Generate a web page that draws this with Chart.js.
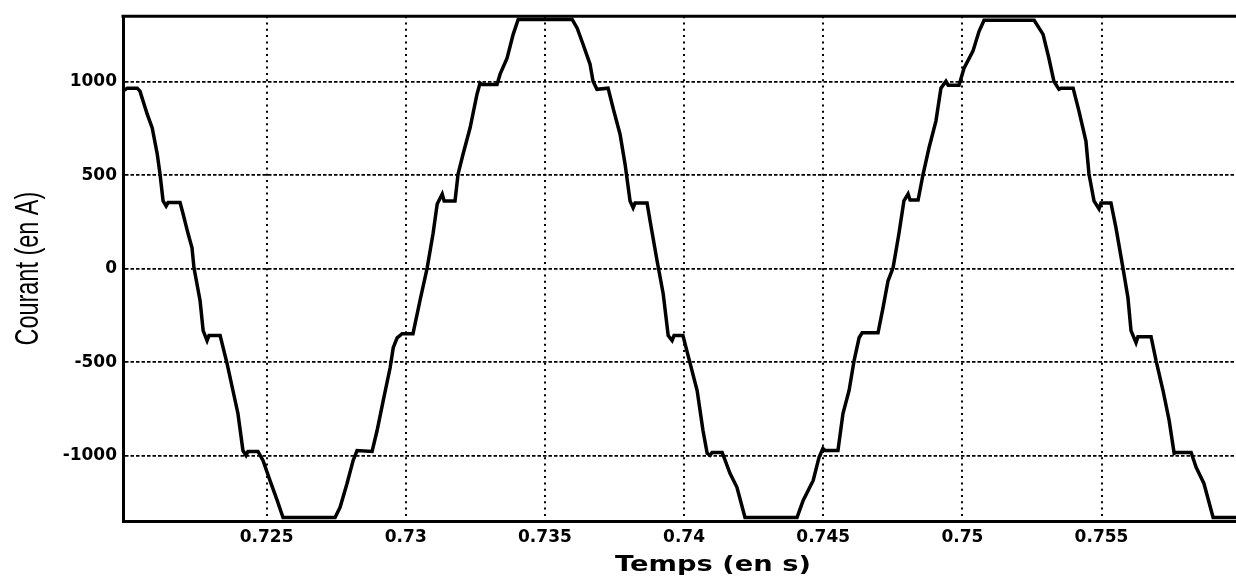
<!DOCTYPE html>
<html>
<head>
<meta charset="utf-8">
<script src="https://cdn.jsdelivr.net/npm/chart.js@4.4.1/dist/chart.umd.min.js"></script>
<style>
  html, body { margin: 0; padding: 0; background: #fff; overflow: hidden; }
  #wrap { position: absolute; left: 0; top: 0; }
</style>
</head>
<body>
<div id="wrap"><canvas id="courant" width="1303" height="578"></canvas></div>
<script>
// temps (s) et courant (A) de la phase, relevés point par point
var tempsS = [
  0.71984, 0.71999, 0.72035, 0.72045, 0.72071, 0.72089, 0.72107, 0.72117, 0.72128, 0.72139, 0.72146, 0.72189,
  0.72200, 0.72218, 0.72232, 0.72239, 0.72261, 0.72272, 0.72286, 0.72293, 0.72333,
  0.72358, 0.72379, 0.72397, 0.72415, 0.72426, 0.72433, 0.72469,
  0.72487, 0.72512, 0.72538, 0.72559, 0.72746,
  0.72764, 0.72789, 0.72811, 0.72825, 0.72879,
  0.72897, 0.72919, 0.72944, 0.72955, 0.72969, 0.72987, 0.73026,
  0.73051, 0.73077, 0.73098, 0.73113, 0.73131, 0.73138, 0.73177,
  0.73188, 0.73206, 0.73231, 0.73256, 0.73267, 0.73274, 0.73328,
  0.73339, 0.73364, 0.73386, 0.73404, 0.73598,
  0.73616, 0.73637, 0.73662, 0.73673, 0.73687, 0.73727,
  0.73745, 0.73770, 0.73788, 0.73806, 0.73817, 0.73824, 0.73867,
  0.73878, 0.73903, 0.73925, 0.73943, 0.73957, 0.73964, 0.73996,
  0.74022, 0.74047, 0.74068, 0.74083, 0.74093, 0.74101, 0.74137,
  0.74165, 0.74190, 0.74219, 0.74406,
  0.74428, 0.74464, 0.74485, 0.74499, 0.74507, 0.74553,
  0.74571, 0.74593, 0.74611, 0.74629, 0.74640, 0.74697,
  0.74715, 0.74733, 0.74751, 0.74772, 0.74790, 0.74805, 0.74812, 0.74841,
  0.74859, 0.74880, 0.74905, 0.74923, 0.74941, 0.74949, 0.74988,
  0.75006, 0.75038, 0.75060, 0.75078, 0.75258,
  0.75290, 0.75311, 0.75329, 0.75347, 0.75355, 0.75398,
  0.75419, 0.75444, 0.75455, 0.75473, 0.75491, 0.75498, 0.75534,
  0.75552, 0.75577, 0.75595, 0.75606, 0.75624, 0.75631, 0.75678,
  0.75696, 0.75721, 0.75743, 0.75761, 0.75768, 0.75822,
  0.75840, 0.75868, 0.75901, 0.76020
];
var courantA = [
  949, 965, 965, 949, 826, 752, 613, 506, 362, 335, 353, 353,
  292, 186, 111, 4, -172, -332, -385, -358, -358,
  -508, -652, -775, -973, -999, -978, -978,
  -1026, -1133, -1240, -1331, -1331,
  -1277, -1149, -1026, -973, -978,
  -866, -706, -529, -423, -370, -348, -348,
  -172, 4, 186, 346, 399, 362, 362,
  506, 613, 752, 933, 992, 985, 985,
  1040, 1125, 1253, 1333, 1333,
  1286, 1200, 1094, 1002, 959, 965,
  858, 719, 559, 362, 325, 351, 351,
  255, 42, -134, -358, -385, -358, -358,
  -508, -652, -866, -988, -999, -983, -983,
  -1095, -1170, -1331, -1331,
  -1240, -1133, -1010, -962, -973, -973,
  -775, -652, -492, -370, -343, -343,
  -209, -65, 4, 186, 362, 399, 367, 367,
  506, 645, 789, 965, 1002, 981, 981,
  1072, 1163, 1269, 1328, 1328,
  1253, 1125, 1002, 959, 965, 965,
  842, 682, 506, 362, 319, 351, 351,
  218, 4, -156, -332, -396, -364, -364,
  -492, -652, -812, -988, -983, -983,
  -1063, -1149, -1331, -1331
];

var xTicks = [0.725, 0.73, 0.735, 0.74, 0.745, 0.75, 0.755];
var xTickLabels = ['0.725', '0.73', '0.735', '0.74', '0.745', '0.75', '0.755'];
var yTicks = [-1000, -500, 0, 500, 1000];
var yTickLabels = ['-1000', '-500', '0', '500', '1000'];
var xTitle = 'Temps (en s)';
var yTitle = 'Courant (en A)';

var points = tempsS.map(function (t, i) { return { x: t, y: courantA[i] }; });

// cadre du haut + titres des axes (police étroite pour l'axe y, large pour l'axe x)
var cadre = {
  id: 'cadre',
  afterDatasetsDraw: function (chart) {
    var a = chart.chartArea, ctx = chart.ctx;
    ctx.save();
    ctx.strokeStyle = '#000';
    ctx.lineWidth = 3;
    ctx.beginPath();
    ctx.moveTo(a.left - 1.5, a.top);
    ctx.lineTo(a.right, a.top);
    ctx.stroke();
    ctx.restore();
  },
  afterDraw: function (chart) {
    var a = chart.chartArea, ctx = chart.ctx;
    ctx.save();
    ctx.fillStyle = '#000';
    ctx.textAlign = 'center';
    ctx.textBaseline = 'alphabetic';

    ctx.save();
    ctx.translate(38, (a.top + a.bottom) / 2);
    ctx.rotate(-Math.PI / 2);
    ctx.scale(0.69, 1);
    ctx.font = "34px 'Liberation Sans', Arial, sans-serif";
    ctx.fillText(yTitle, 0, 0);
    ctx.restore();

    ctx.save();
    ctx.translate((a.left + a.right) / 2, 570.5);
    ctx.scale(1.3, 1);
    ctx.font = "bold 21px 'DejaVu Sans', sans-serif";
    ctx.fillText(xTitle, 0, 0);
    ctx.restore();

    ctx.restore();
  }
};

var tickFont = { family: 'DejaVu Sans', size: 17, weight: 'bold' };

new Chart(document.getElementById('courant'), {
  type: 'line',
  data: {
    datasets: [{
      data: points,
      borderColor: '#000',
      borderWidth: 3.5,
      pointRadius: 0,
      tension: 0,
      fill: false
    }]
  },
  options: {
    responsive: false,
    animation: false,
    layout: { padding: { top: 15, left: 0, right: 0, bottom: 0 } },
    plugins: { legend: { display: false }, tooltip: { enabled: false } },
    scales: {
      x: {
        type: 'linear',
        min: 0.71984,
        max: 0.76224,
        afterBuildTicks: function (scale) {
          scale.ticks = xTicks.map(function (v) { return { value: v }; });
        },
        afterFit: function (scale) { scale.height = 57; },
        ticks: {
          autoSkip: false,
          maxRotation: 0,
          padding: 6,
          color: '#000',
          font: tickFont,
          callback: function (v, i) { return xTickLabels[i]; }
        },
        grid: { color: '#000', lineWidth: 2, drawTicks: false },
        border: { display: true, color: '#000', width: 3, dash: [2, 4.3] }
      },
      y: {
        type: 'linear',
        min: -1350,
        max: 1350,
        afterBuildTicks: function (scale) {
          scale.ticks = yTicks.map(function (v) { return { value: v }; });
        },
        afterFit: function (scale) { scale.width = 123; },
        ticks: {
          padding: 6,
          color: '#000',
          font: tickFont,
          callback: function (v, i) { return yTickLabels[i]; }
        },
        grid: { color: '#000', lineWidth: 1.7, drawTicks: false },
        border: { display: true, color: '#000', width: 3, dash: [3.5, 2] }
      }
    }
  },
  plugins: [cadre]
});
</script>
</body>
</html>
